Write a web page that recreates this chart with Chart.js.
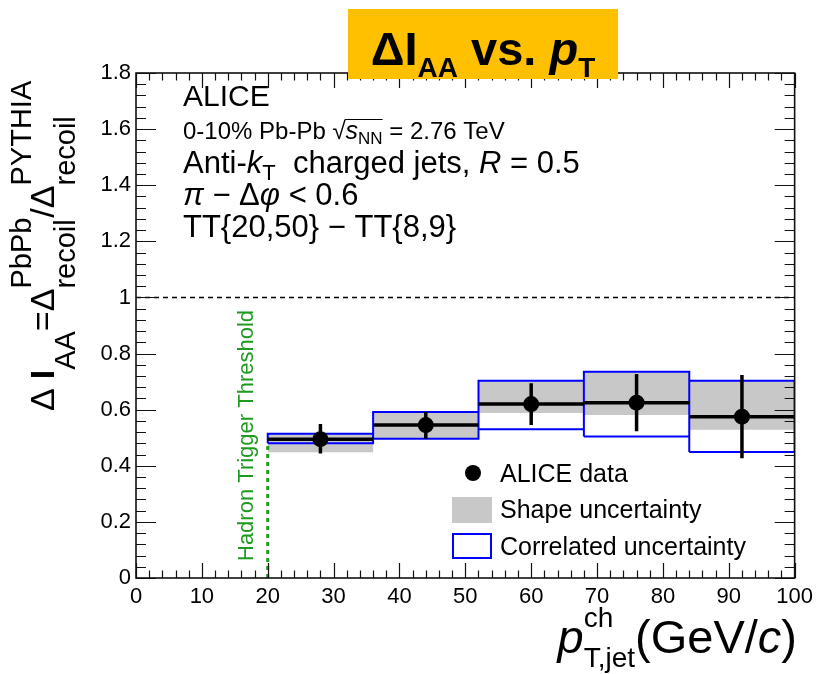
<!DOCTYPE html>
<html>
<head>
<meta charset="utf-8">
<title>ΔIAA vs. pT</title>
<script src="https://cdn.jsdelivr.net/npm/chart.js@4.4.1/dist/chart.umd.min.js"></script>
<style>
  html, body { margin: 0; padding: 0; background: #fff; }
  canvas { display: block; }
</style>
</head>
<body>
<canvas id="iaa" width="819" height="674"></canvas>
<script>
'use strict';

// Jet pT bins (GeV/c) and the measured Delta I_AA per bin.
const binEdges = [20, 36, 52, 68, 84, 100];
const binCenters = [28, 44, 60, 76, 92];
const iaaValues = [0.495, 0.545, 0.62, 0.625, 0.575];

// Statistical error bars.
const statLow = [0.444, 0.496, 0.545, 0.523, 0.427];
const statHigh = [0.549, 0.592, 0.694, 0.727, 0.724];

// Shape uncertainty (grey band).
const shapeLow = [0.448, 0.496, 0.588, 0.581, 0.528];
const shapeHigh = [0.514, 0.592, 0.703, 0.735, 0.703];

// Correlated uncertainty (blue boxes).
const corrLow = [0.480, 0.496, 0.530, 0.504, 0.449];
const corrHigh = [0.514, 0.592, 0.703, 0.735, 0.703];

// Hadron trigger threshold and the I_AA = 1 reference.
const triggerThreshold = 20;
const unity = 1;

// Axis ranges and tick steps.
const xRange = [0, 100];
const yRange = [0, 1.8];
const xTickStep = 10;
const yTickStep = 0.2;

const FONT = "'Liberation Sans', Arial, Helvetica, sans-serif";
const GREY = '#c8c8c8';
const BLUE = '#0000ff';
const GREEN = '#1f9a1f';

// A point with no y breaks the line, so every piece is drawn on its own.
const gap = x => ({x: x, y: null});

const horizBars = [];
const vertBars = [];
const boxes = [];
binCenters.forEach((c, i) => {
  const lo = binEdges[i];
  const hi = binEdges[i + 1];
  horizBars.push({x: lo, y: iaaValues[i]}, {x: hi, y: iaaValues[i]}, gap(hi));
  vertBars.push({x: c, y: statLow[i]}, {x: c, y: statHigh[i]}, gap(c));
  boxes.push(
    {x: lo, y: corrLow[i]}, {x: lo, y: corrHigh[i]}, {x: hi, y: corrHigh[i]},
    {x: hi, y: corrLow[i]}, {x: lo, y: corrLow[i]}, gap(hi)
  );
});

// Stepped outlines of the shape band, one step per bin.
const last = binCenters.length - 1;
const shapeTop = binEdges.map((e, i) => ({x: e, y: shapeHigh[Math.min(i, last)]}));
const shapeBottom = binEdges.map((e, i) => ({x: e, y: shapeLow[Math.min(i, last)]}));

const lineBase = {
  type: 'line',
  pointRadius: 0,
  pointHoverRadius: 0,
  fill: false,
  spanGaps: false,
  tension: 0
};

// Draws a run of text pieces (sub/superscripts via dy, keep = stack with next piece).
function rich(ctx, parts, x, y, draw = true) {
  let cx = x;
  let held = 0;
  const starts = [];
  for (const p of parts) {
    ctx.font = `${p.s || ''} ${p.f}px ${p.family || FONT}`;
    const w = ctx.measureText(p.t).width;
    starts.push(cx);
    if (draw) ctx.fillText(p.t, cx, y + (p.dy || 0));
    if (p.keep) {
      held = Math.max(held, w);
    } else {
      cx += Math.max(held, w) + (p.after || 0);
      held = 0;
    }
  }
  return {width: cx - x, starts: starts, end: cx};
}

// Frame with ROOT-style inward ticks on all four sides.
const frameTicks = {
  id: 'frameTicks',
  afterDatasetsDraw(chart) {
    const {ctx, chartArea: a, scales: {x, y}} = chart;
    ctx.save();
    ctx.strokeStyle = '#111';
    ctx.lineWidth = 1.2;
    ctx.beginPath();
    for (let i = 0; i <= 50; i++) {
      const px = Math.round(x.getPixelForValue(xRange[0] + i * xTickStep / 5)) + 0.5;
      const len = i % 5 === 0 ? 15 : 7.5;
      ctx.moveTo(px, a.bottom);
      ctx.lineTo(px, a.bottom - len);
      ctx.moveTo(px, a.top);
      ctx.lineTo(px, a.top + len);
    }
    for (let i = 0; i <= 45; i++) {
      const py = Math.round(y.getPixelForValue(yRange[0] + i * yTickStep / 5)) + 0.5;
      const len = i % 5 === 0 ? 20 : 10;
      ctx.moveTo(a.left, py);
      ctx.lineTo(a.left + len, py);
      ctx.moveTo(a.right, py);
      ctx.lineTo(a.right - len, py);
    }
    ctx.stroke();
    ctx.lineWidth = 1.6;
    ctx.strokeRect(a.left, a.top, a.right - a.left, a.bottom - a.top);
    ctx.restore();
  }
};

// Axis titles, annotation block, legend and the title banner.
const annotations = {
  id: 'annotations',
  afterDraw(chart) {
    const {ctx, scales: {x}} = chart;
    ctx.save();
    ctx.fillStyle = '#000';
    ctx.textAlign = 'left';
    ctx.textBaseline = 'alphabetic';

    // collision system / selection block
    rich(ctx, [{t: 'ALICE', f: 30}], 183, 106);
    const sys = rich(ctx, [
      {t: '0-10% Pb-Pb ', f: 24},
      {t: '\u221A', f: 24},
      {t: 's', f: 25, s: 'italic'},
      {t: 'NN', f: 17, dy: 5},
      {t: ' = 2.76 TeV', f: 24}
    ], 183, 139);
    ctx.strokeStyle = '#000';
    ctx.lineWidth = 1.2;
    ctx.beginPath();
    ctx.moveTo(sys.starts[2] - 1, 139 - 19.5);
    ctx.lineTo(sys.starts[4], 139 - 19.5);
    ctx.stroke();
    rich(ctx, [
      {t: 'Anti-', f: 31},
      {t: 'k', f: 31, s: 'italic'},
      {t: 'T', f: 22, dy: 7},
      {t: '  charged jets, ', f: 31},
      {t: 'R', f: 31, s: 'italic'},
      {t: ' = 0.5', f: 31}
    ], 183, 173);
    rich(ctx, [
      {t: '\u03C0', f: 31, s: 'italic'},
      {t: ' \u2212 \u0394', f: 31},
      {t: '\u03C6', f: 31, s: 'italic'},
      {t: ' < 0.6', f: 31}
    ], 183, 205);
    rich(ctx, [{t: 'TT{20,50} \u2212 TT{8,9}', f: 31}], 183, 237);

    // legend
    ctx.beginPath();
    ctx.arc(473, 473, 8, 0, Math.PI * 2);
    ctx.fill();
    ctx.fillStyle = GREY;
    ctx.fillRect(452, 497, 40, 26);
    ctx.strokeStyle = BLUE;
    ctx.lineWidth = 2;
    ctx.strokeRect(453, 534, 38, 24);
    ctx.fillStyle = '#000';
    ctx.font = `25px ${FONT}`;
    ctx.fillText('ALICE data', 500, 482);
    ctx.fillText('Shape uncertainty', 500, 518);
    ctx.fillText('Correlated uncertainty', 500, 555);

    // threshold label along the dotted line
    ctx.save();
    ctx.translate(x.getPixelForValue(triggerThreshold) - 15, 561);
    ctx.rotate(-Math.PI / 2);
    ctx.fillStyle = GREEN;
    ctx.font = `22px ${FONT}`;
    ctx.fillText('Hadron Trigger Threshold', 0, 0);
    ctx.restore();

    // y-axis title
    const yTitle = [
      {t: '\u0394', f: 34, after: 9},
      {t: 'I', f: 34, s: 'bold'},
      {t: 'AA', f: 29, dy: 21},
      {t: '=', f: 34},
      {t: '\u0394', f: 34},
      {t: 'PbPb', f: 29, dy: -23, keep: true},
      {t: 'recoil', f: 29, dy: 21},
      {t: '/', f: 34},
      {t: '\u0394', f: 34},
      {t: 'PYTHIA', f: 29, dy: -23, keep: true},
      {t: 'recoil', f: 29, dy: 21}
    ];
    ctx.save();
    ctx.translate(54, 411);
    ctx.rotate(-Math.PI / 2);
    rich(ctx, yTitle, 0, 0);
    ctx.restore();

    // x-axis title, right-aligned to the frame
    const xTitle = [
      {t: 'p', f: 47, s: 'italic'},
      {t: 'ch', f: 28, dy: -26, keep: true},
      {t: 'T,jet', f: 28, dy: 14},
      {t: '(GeV/', f: 47},
      {t: 'c', f: 47, s: 'italic'},
      {t: ')', f: 47}
    ];
    const xw = rich(ctx, xTitle, 0, 0, false).width;
    rich(ctx, xTitle, 797 - xw, 653);

    // title banner
    ctx.fillStyle = '#ffc000';
    ctx.fillRect(348, 9, 270, 70);
    ctx.fillStyle = '#000';
    const title = [
      {t: '\u0394I', f: 47, s: 'bold'},
      {t: 'AA', f: 28, s: 'bold', dy: 12},
      {t: ' vs. ', f: 47, s: 'bold'},
      {t: 'p', f: 47, s: 'italic bold'},
      {t: 'T', f: 28, s: 'bold', dy: 12}
    ];
    const tw = rich(ctx, title, 0, 0, false).width;
    rich(ctx, title, 483 - tw / 2, 65);

    ctx.restore();
  }
};

new Chart(document.getElementById('iaa'), {
  type: 'line',
  data: {
    datasets: [
      {
        ...lineBase,
        label: 'ALICE data',
        data: binCenters.map((c, i) => ({x: c, y: iaaValues[i]})),
        showLine: false,
        pointRadius: 8,
        pointBackgroundColor: '#000',
        pointBorderWidth: 0,
        order: 0
      },
      {
        ...lineBase,
        label: 'bin width',
        data: horizBars,
        borderColor: '#000',
        borderWidth: 3.5,
        order: 1
      },
      {
        ...lineBase,
        label: 'statistical',
        data: vertBars,
        borderColor: '#000',
        borderWidth: 3.5,
        order: 1
      },
      {
        ...lineBase,
        label: 'Correlated uncertainty',
        data: boxes,
        borderColor: BLUE,
        borderWidth: 2,
        borderJoinStyle: 'miter',
        order: 2
      },
      {
        ...lineBase,
        label: 'unity',
        data: [{x: xRange[0], y: unity}, {x: xRange[1], y: unity}],
        borderColor: '#000',
        borderWidth: 1.6,
        borderDash: [5, 4],
        order: 3
      },
      {
        ...lineBase,
        label: 'trigger threshold',
        data: [{x: triggerThreshold, y: yRange[0]}, {x: triggerThreshold, y: corrLow[0]}],
        borderColor: GREEN,
        borderWidth: 3,
        borderDash: [4, 4],
        order: 3
      },
      {
        ...lineBase,
        label: 'Shape uncertainty',
        data: shapeTop,
        stepped: true,
        borderWidth: 0,
        fill: '+1',
        backgroundColor: GREY,
        order: 5
      },
      {
        ...lineBase,
        label: 'shape low',
        data: shapeBottom,
        stepped: true,
        borderWidth: 0,
        order: 6
      }
    ]
  },
  options: {
    responsive: false,
    animation: false,
    devicePixelRatio: 1,
    events: [],
    layout: {padding: {top: 73, right: 23, left: 0, bottom: 0}},
    plugins: {
      legend: {display: false},
      tooltip: {enabled: false}
    },
    scales: {
      x: {
        type: 'linear',
        min: xRange[0],
        max: xRange[1],
        afterFit: s => { s.height = 96; },
        grid: {display: false, drawTicks: false},
        border: {display: false},
        ticks: {
          stepSize: xTickStep,
          color: '#000',
          font: {family: FONT, size: 22},
          padding: 6,
          maxRotation: 0,
          autoSkip: false
        }
      },
      y: {
        type: 'linear',
        min: yRange[0],
        max: yRange[1],
        afterFit: s => { s.width = 136; },
        grid: {display: false, drawTicks: false},
        border: {display: false},
        ticks: {
          stepSize: yTickStep,
          color: '#000',
          font: {family: FONT, size: 22},
          padding: 5,
          autoSkip: false,
          callback: v => String(Math.round(v * 10) / 10)
        }
      }
    }
  },
  plugins: [frameTicks, annotations]
});
</script>
</body>
</html>
